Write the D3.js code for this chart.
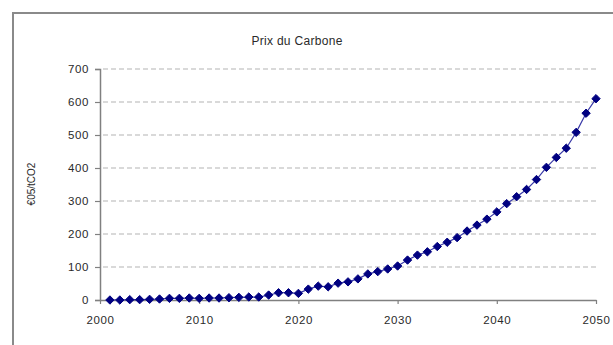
<!DOCTYPE html>
<html>
<head>
<meta charset="utf-8">
<script src="https://cdn.jsdelivr.net/npm/d3@7"></script>
<style>
  html, body { margin: 0; padding: 0; background: #fff; }
  svg { display: block; }
  text { font-family: "Liberation Sans", Arial, sans-serif; fill: #2a2a2a; }
</style>
</head>
<body>
<svg id="chart" width="613" height="345"></svg>
<script>
// Carbon price series, €2005 per tonne of CO2, yearly 2001–2050
const years = d3.range(2001, 2051);
const prices = [
  0, 0, 1, 1, 2, 3, 5, 5, 6, 5,
  6, 6, 7, 8, 9, 9, 15, 22, 22, 20,
  33, 42, 40, 51, 55, 64, 79, 86, 94, 103,
  121, 136, 146, 162, 175, 189, 209, 227, 245, 267,
  292, 313, 335, 365, 402, 432, 460, 508, 566, 610
];
const yTicks = [0, 100, 200, 300, 400, 500, 600, 700];
const xTicks = [2000, 2010, 2020, 2030, 2040, 2050];
const title = "Prix du Carbone";
const yLabel = "€05/tCO2";

const svg = d3.select("#chart");
const plotLeft = 100, plotRight = 596, plotTop = 69, plotBottom = 300;

const x = d3.scaleLinear().domain([2000, 2050]).range([plotLeft, plotRight]);
const y = d3.scaleLinear().domain([0, 700]).range([plotBottom, plotTop]);

// chart frame
svg.append("rect")
  .attr("x", 13).attr("y", 13).attr("width", 640).attr("height", 360)
  .attr("fill", "none").attr("stroke", "#8a8a8a").attr("stroke-width", 2);

// title
svg.append("text")
  .attr("x", 297).attr("y", 45)
  .attr("text-anchor", "middle")
  .style("font-size", "12px")
  .style("letter-spacing", "0.3px")
  .text(title);

// dashed horizontal gridlines
svg.append("g").selectAll("line")
  .data(yTicks.filter(d => d > 0))
  .join("line")
  .attr("x1", plotLeft + 3).attr("x2", plotRight)
  .attr("y1", d => y(d)).attr("y2", d => y(d))
  .attr("stroke", "#b4b4b4").attr("stroke-width", 1.2)
  .attr("stroke-dasharray", "5,3");

const tickFont = sel => sel
  .style("font-size", "11.5px")
  .style("letter-spacing", "0.6px")
  .style("font-family", "'Liberation Sans', Arial, sans-serif")
  .attr("fill", "#2a2a2a");

// y axis
const yAxis = svg.append("g")
  .attr("transform", `translate(${plotLeft},0)`)
  .call(d3.axisLeft(y).tickValues(yTicks).tickSize(5).tickPadding(6).tickFormat(d3.format("d")));
yAxis.select(".domain").attr("stroke", "#808080").attr("stroke-width", 1.5);
yAxis.selectAll(".tick line").attr("stroke", "#808080").attr("stroke-width", 1.2);
yAxis.selectAll(".tick text").call(tickFont);

// x axis
const xAxis = svg.append("g")
  .attr("transform", `translate(0,${plotBottom})`)
  .call(d3.axisBottom(x).tickValues(xTicks).tickSize(4).tickSizeOuter(0).tickPadding(12).tickFormat(d3.format("d")));
xAxis.select(".domain").attr("stroke", "#808080").attr("stroke-width", 1.5);
xAxis.selectAll(".tick line").attr("stroke", "#808080").attr("stroke-width", 1.2);
xAxis.selectAll(".tick text").call(tickFont);

// y axis title
svg.append("text")
  .attr("transform", "translate(35,184) rotate(-90)")
  .attr("text-anchor", "middle")
  .style("font-size", "10px")
  .text(yLabel);

// series line
const data = years.map((yr, i) => ({ yr, v: prices[i] }));
svg.append("path")
  .datum(data)
  .attr("fill", "none")
  .attr("stroke", "#3a3aa8")
  .attr("stroke-width", 1.2)
  .attr("d", d3.line().x(d => x(d.yr)).y(d => y(d.v)));

// square diamond markers
const r = 4.2;
const diamondPath = `M0,${-r}L${r},0L0,${r}L${-r},0Z`;
svg.append("g").selectAll("path")
  .data(data)
  .join("path")
  .attr("transform", d => `translate(${x(d.yr)},${y(d.v)})`)
  .attr("d", diamondPath)
  .attr("fill", "#000080")
  .attr("stroke", "#000080")
  .attr("stroke-width", 1)
  .attr("stroke-linejoin", "round");
</script>
</body>
</html>
